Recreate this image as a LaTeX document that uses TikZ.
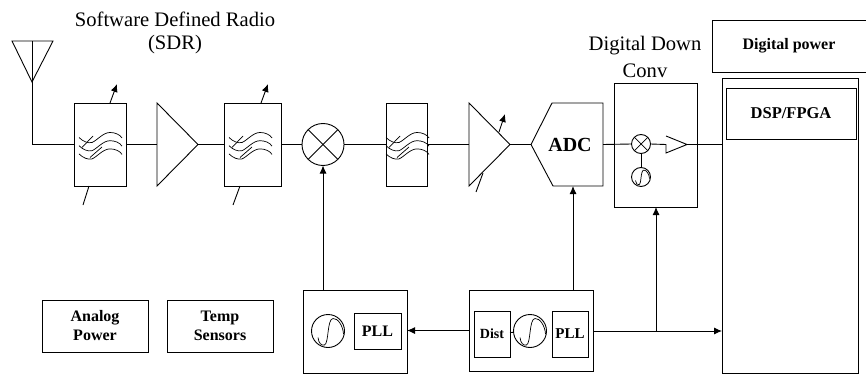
\documentclass[tikz,border=0pt]{standalone}
\usepackage{fontspec}
\setmainfont{Liberation Serif}
\usetikzlibrary{shapes.geometric,arrows.meta}
\tikzset{
  lpwaves/.pic={
    \foreach \dy in {0,8.2,16.4} {
      \draw[thin wire] (-21,-7+\dy) .. controls (-17,-3+\dy) and (-12,-1+\dy) .. (-8,-2+\dy)
        .. controls (-3,-4+\dy) and (3,-12+\dy) .. (10,-12+\dy)
        .. controls (15,-12+\dy) and (20,-10+\dy) .. (22,-6.5+\dy);
    }
    \draw[thin wire] (-18,3) -- (-7,-8.5);
    \draw[thin wire] (-10,13) -- (2,2.5);
  },
  sinewave/.pic={
    \draw[thin wire] (-10,6.5) .. controls (-9.5,12) and (-6.5,15) .. (-3.5,14)
      .. controls (1,12) and (-1,-12) .. (5,-12.5)
      .. controls (10,-13) and (15,-5) .. (15.5,3);
  }
}
\begin{document}
\begin{tikzpicture}[x=1pt,y=-1pt,
    wire/.style={draw, line width=0.9pt},
    thin wire/.style={draw, line width=0.7pt},
    sigto/.style={wire, -{Latex[length=8pt,width=7pt]}},
    blk/.style={wire, rectangle, inner sep=0pt, outer sep=0pt, align=center, font=\bfseries\fontsize{16}{19}\selectfont},
    amp/.style={wire, isosceles triangle, isosceles triangle stretches, inner sep=0pt, outer sep=0pt, anchor=lower side},
    ring/.style={wire, circle, inner sep=0pt, outer sep=0pt},
    title/.style={inner sep=0pt, font=\fontsize{20.6}{25}\selectfont}]
\useasboundingbox (0,0) rectangle (866,374);
\node[title] (sdrA) at (175,19) {Software Defined Radio};
\node[title] (sdrB) at (175,45) {(SDR)};
\node[title] (ddcA) at (645,46) {Digital Down};
\node[title] (ddcB) at (645,71) {Conv};

\coordinate (antL) at (12,41);
\coordinate (antR) at (53,41);
\coordinate (antT) at (32,41);
\coordinate (antB) at (32,82);
\draw[wire] (antL) -- (antR) -- (antB) -- cycle;
\draw[wire] (antT) -- (antB);

\node[blk, minimum width=52, minimum height=83] (filtA) at (100,144.5) {};
\node[amp, minimum width=83, minimum height=41] (ampA) at (157,144.5) {};
\node[blk, minimum width=57, minimum height=83] (filtB) at (252.5,144.5) {};
\node[ring, minimum size=42] (mixA) at (323,144.5) {};
\node[blk, minimum width=41, minimum height=83] (filtC) at (406.5,144.5) {};
\node[amp, minimum width=83, minimum height=41] (ampB) at (469,144.5) {};
\node[inner sep=0pt, outer sep=0pt, minimum width=72, minimum height=83, font=\bfseries\fontsize{20}{24}\selectfont, text depth=0pt] (adc) at (567,144.5) {\hspace{6pt}ADC};
\draw[wire] (adc.west) -- ++(21,-41.5) -- (adc.north east) -- (adc.south east) -- ++(-50,0) -- cycle;

\pic at (100,144.5) {lpwaves};
\pic at (250,144.5) {lpwaves};
\pic at (407,144.5) {lpwaves};

\node[blk, minimum width=83, minimum height=124] (ddc) at (655.5,145) {};
\node[ring, minimum size=19] (mixB) at (641,144) {};
\node[ring, minimum size=19] (oscC) at (641,177) {};
\pic[scale=0.55] at (641,177) {sinewave};
\coordinate (ampCtop) at (666,136);
\coordinate (ampCbot) at (666,153);
\coordinate (ampCin) at (666,144.5);
\coordinate (ampCtip) at (687,144.5);
\draw[wire] (ampCtop) -- (ampCtip) -- (ampCbot) -- (ampCin);

\node[blk, minimum width=154, minimum height=52] (pwr) at (789,46) {Digital power};
\node[blk, minimum width=136, minimum height=295] (dspbox) at (790,225.5) {};
\node[blk, minimum width=130, minimum height=51, font=\bfseries\fontsize{16.5}{19}\selectfont] (dsp) at (791,113.5) {DSP/FPGA};

\node[blk, minimum width=106, minimum height=52] (apwr) at (95,326) {Analog\\Power};
\node[blk, minimum width=106, minimum height=52] (temp) at (220,326) {Temp\\Sensors};

\node[blk, minimum width=104, minimum height=83] (loA) at (355,331.5) {};
\node[ring, minimum size=33] (oscA) at (328,331) {};
\node[blk, minimum width=47, minimum height=36] (pllA) at (377.5,331) {PLL};
\pic at (328,331) {sinewave};

\node[blk, minimum width=124, minimum height=81] (clk) at (531,330.5) {};
\node[blk, minimum width=36, minimum height=46, font=\bfseries\fontsize{14}{19}\selectfont] (dist) at (492,334) {Dist};
\node[ring, minimum size=33] (oscB) at (530,331) {};
\node[blk, minimum width=36, minimum height=46, font=\bfseries\fontsize{15}{19}\selectfont] (pllB) at (570,334) {PLL};
\pic at (530,331) {sinewave};

\draw[wire] (mixA.45) -- (mixA.225);
\draw[wire] (mixA.135) -- (mixA.315);
\draw[thin wire] (mixB.45) -- (mixB.225);
\draw[thin wire] (mixB.135) -- (mixB.315);

\draw[wire] (antB) |- (filtA.west);
\draw[wire] (filtA) -- (ampA.lower side);
\draw[wire] (ampA.apex) -- (filtB);
\draw[wire] (filtB) -- (mixA);
\draw[wire] (mixA) -- (filtC);
\draw[wire] (filtC) -- (ampB.lower side);
\draw[wire] (ampB.apex) -- (adc.west);
\draw[wire] (adc.east) -- (mixB.west);
\draw[wire] (mixB.east) -- (ampCin);
\draw[wire] (mixB) -- (oscC);
\draw[wire] (ampCtip) -- (dspbox.west |- ampCtip);
\draw[wire] (dist) -- (oscB);

\coordinate (tuneA) at (117,84);
\coordinate (tuneB) at (268,84);
\coordinate (tuneC) at (505,114);
\coordinate (biasA) at (83,205);
\coordinate (biasB) at (233,205);
\coordinate (biasC) at (476,192);
\draw[sigto] ([xshift=10pt]filtA.north) -- (tuneA);
\draw[sigto] ([xshift=8.5pt]filtB.north) -- (tuneB);
\draw[sigto] (499,132) -- (tuneC);
\draw[wire] ([xshift=-11pt]filtA.south) -- (biasA);
\draw[wire] ([xshift=-12.5pt]filtB.south) -- (biasB);
\draw[wire] (483,173) -- (biasC);

\coordinate (tapB) at (656,331);
\draw[sigto] (loA.north -| mixA) -- (mixA);
\draw[sigto] (clk.west) -- (loA.east |- clk.west);
\draw[sigto] (clk.north -| 573,0) -- (adc.south -| 573,0);
\draw[sigto] (clk.east |- tapB) -- (dspbox.west |- tapB);
\draw[sigto] (tapB) -- (ddc.south -| tapB);
\end{tikzpicture}
\end{document}
